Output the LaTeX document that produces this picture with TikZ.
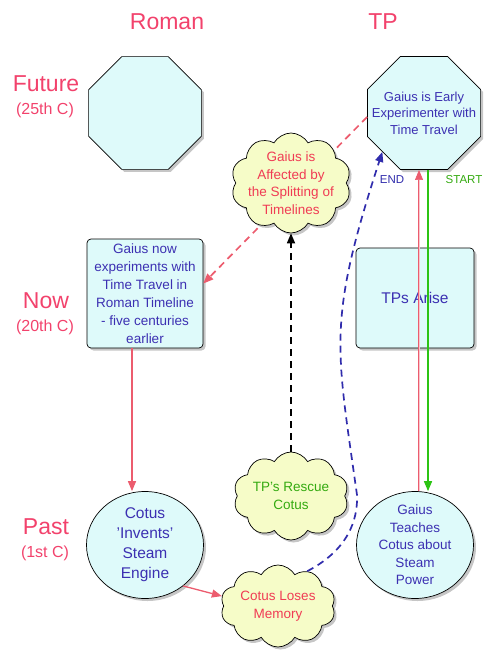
\documentclass[tikz,border=0pt]{standalone}
\usepackage{fontspec}
\setmainfont{Liberation Sans}
\usepackage{tikz}
\usetikzlibrary{shapes.geometric,shapes.symbols,shadows,arrows.meta,positioning}

\definecolor{hdred}{RGB}{242,66,108}
\definecolor{txtblue}{RGB}{60,48,178}
\definecolor{txtred}{RGB}{240,60,84}
\definecolor{txtgreen}{RGB}{52,170,16}
\definecolor{lngreen}{RGB}{44,196,20}
\definecolor{lnred}{RGB}{236,92,110}
\definecolor{lnblue}{RGB}{48,44,172}
\definecolor{boxfill}{RGB}{222,250,250}
\definecolor{cloudfill}{RGB}{246,252,200}

\begin{document}
\begin{tikzpicture}[x=1pt,y=1pt,
  sh/.style={drop shadow={shadow xshift=2.5pt,shadow yshift=-2.5pt,opacity=.45}},
  body/.style={font=\fontsize{13.5}{17.5}\selectfont,align=center},
  hd/.style={text=hdred,font=\fontsize{23}{26}\selectfont,inner sep=0pt},
  era/.style={text=hdred,font=\fontsize{23}{26}\selectfont,inner sep=0pt},
  cent/.style={text=hdred,font=\fontsize{16}{19}\selectfont,inner sep=0pt},
  octo/.style={regular polygon,regular polygon sides=8,minimum size=122pt,inner sep=-12pt,
    draw,line width=.7pt,fill=boxfill,sh,text=txtblue,body,font=\fontsize{13}{16.5}\selectfont},
  rbox/.style={rectangle,rounded corners=4pt,draw,line width=.7pt,fill=boxfill,sh,text=txtblue,body},
  circ/.style={ellipse,minimum width=117pt,minimum height=107pt,inner xsep=0pt,inner ysep=-10pt,
    draw,line width=.7pt,fill=boxfill,sh,text=txtblue,body},
  puff/.style={cloud,cloud puffs=10,cloud puff arc=120,cloud ignores aspect,inner xsep=-4pt,inner ysep=-8pt,
    draw,line width=.7pt,fill=cloudfill,sh,body},
  dashln/.style={draw=#1,line width=1.7pt,dash pattern=on 7pt off 5pt},
  arr/.style={-{Triangle[length=10pt,width=8pt]}},
  tag/.style={font=\fontsize{11.5}{13}\selectfont,inner sep=0pt}]
\useasboundingbox (0,0) rectangle (496,-660);

\node[hd] (roman) at (167,-22) {Roman};
\node[hd] (tp) at (383,-22) {TP};
\foreach \nm/\yy/\era/\cent in {fut/84/Future/25th C,now/301/Now/20th C,past/527/Past/1st C}{
  \node[era] (\nm-era) at (46,-\yy) {\era};
  \node[cent] (\nm-cent) at (45,-\yy-26.5) {(\cent)};
}

\node[octo] (romanfuture) at (145,-113) {};
\node[octo] (tpfuture) at (424,-113) {Gaius is Early\\Experimenter with\\Time Travel};
\node[rbox,minimum width=116pt,minimum height=109pt] (nowbox) at (145,-293.5)
  {Gaius now\\[.5pt]experiments with\\[.5pt]Time Travel in\\[.5pt]Roman Timeline\\[.5pt]- five centuries\\[.5pt]earlier};
\draw[dashln=lnred,arr] ([yshift=-4pt]tpfuture.west) -- ([yshift=10pt]nowbox.east);

\node[puff,text=txtred,minimum width=120pt,minimum height=100pt] (affected) at (291,-183)
  {Gaius is\\Affected by\\the Splitting of\\Timelines};
\node[rbox,minimum width=118pt,minimum height=100pt,font=\fontsize{15.5}{18}\selectfont] (tparise) at (415,-298) {TPs Arise};
\node[circ,font=\fontsize{15.5}{20}\selectfont] (cotus) at (145,-545) {Cotus\\'Invents'\\Steam\\Engine};
\node[circ] (teaches) at (415,-545) {Gaius\\Teaches\\Cotus about\\Steam\\Power};
\node[puff,text=txtgreen,minimum width=115pt,minimum height=88pt] (rescue) at (291,-496) {TP's Rescue\\Cotus};
\node[puff,text=txtred,minimum width=115pt,minimum height=82pt] (loses) at (278,-606) {Cotus Loses\\Memory};

\draw[dashln=black,arr] (rescue.north) -- (affected.south);
\draw[lnred,line width=1.3pt,arr] ([xshift=-13pt]nowbox.south) -- ([xshift=-13pt]nowbox.south |- cotus.north);
\draw[lnred,line width=1.3pt,arr] (cotus.-47) -- (loses.170);
\draw[draw=lnred,double=lnred!35,line width=.7pt,double distance=1pt,arr]
  ([xshift=-5pt]tpfuture.south |- teaches.north) -- ([xshift=-5pt]tpfuture.south);
\draw[lngreen,line width=1.4pt,arr] ([xshift=4pt]tpfuture.south) -- ([xshift=4pt]tpfuture.south |- teaches.north);
\coordinate (lowbend) at (357,-495);
\draw[dashln=lnblue,arr] (loses.50) .. controls (348,-550) and (358,-520) .. (lowbend)
  .. controls (336,-345) and (327,-322) .. (tpfuture.223);

\node[tag,text=lnblue] (endtag) at (392,-180) {END};
\node[tag,text=txtgreen] (starttag) at (464,-180) {START};
\end{tikzpicture}
\end{document}
